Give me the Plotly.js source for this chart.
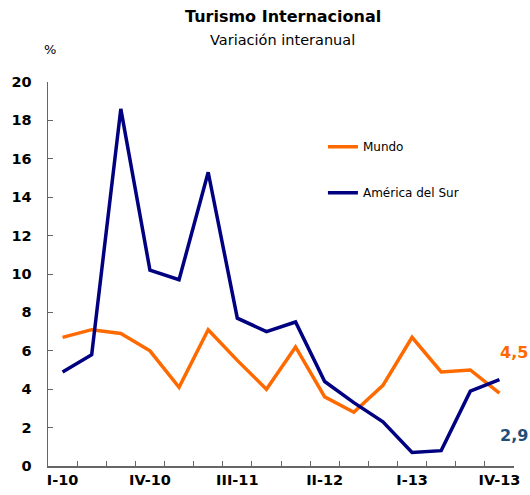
<!DOCTYPE html>
<html><head><meta charset="utf-8">
<script src="https://cdn.plot.ly/plotly-3.0.1.min.js"></script>
<style>html,body{margin:0;padding:0;background:#fff}#c{width:530px;height:495px}</style>
</head><body><div id="c"></div>
<script>
const quarters = ["I-10","II-10","III-10","IV-10","I-11","II-11","III-11","IV-11","I-12","II-12","III-12","IV-12","I-13","II-13","III-13","IV-13"];
const tickLabels = ["I-10","","","IV-10","","","III-11","","","II-12","","","I-13","","","IV-13"];
const mundo = [6.7,7.1,6.9,6.0,4.1,7.1,5.5,4.0,6.2,3.6,2.8,4.2,6.7,4.9,5.0,3.8];
const americaSur = [4.9,5.8,18.6,10.2,9.7,15.3,7.7,7.0,7.5,4.4,3.3,2.3,0.7,0.8,3.9,4.5];
const endLabels = {mundo: "4,5", americaSur: "2,9"};

const F = "DejaVu Sans, Verdana, sans-serif";
const traces = [
  {x: quarters, y: mundo, name: "Mundo", type: "scatter", mode: "lines",
   line: {color: "#FF6A00", width: 3.5}, legendgroup: "a"},
  {x: quarters, y: americaSur, name: "América del Sur", type: "scatter", mode: "lines",
   line: {color: "#000080", width: 3.5}, legendgroup: "b"}
];
const layout = {
  width: 530, height: 495,
  margin: {l: 48, r: 16, t: 82, b: 29},
  paper_bgcolor: "#fff", plot_bgcolor: "#fff",
  font: {family: F, color: "#000"},
  showlegend: true,
  legend: {x: 0.59, y: 0.869, xanchor: "left", yanchor: "top", bgcolor: "rgba(0,0,0,0)",
    font: {family: F, size: 12, color: "#000"}, tracegroupgap: 27, traceorder: "grouped",
    itemwidth: 30},
  xaxis: {type: "category", tickvals: quarters, ticktext: tickLabels, tickson: "boundaries",
    ticks: "inside", ticklen: 5, tickcolor: "#666", showline: true, linecolor: "#666", linewidth: 1.5,
    showgrid: false, zeroline: false, range: [-0.5, 15.5], tickangle: 0, automargin: false,
    tickfont: {family: F, size: 14.5, color: "#000", weight: "bold"}},
  yaxis: {range: [0, 20], dtick: 2, ticks: "inside", ticklen: 5, tickcolor: "#666",
    showline: true, linecolor: "#666", linewidth: 1.5, showgrid: false, zeroline: false,
    ticklabelstandoff: 12, automargin: false,
    tickfont: {family: F, size: 14.5, color: "#000", weight: "bold"}},
  annotations: [
    {xref: "paper", yref: "paper", x: 0.504, y: 1.14, xanchor: "center", yanchor: "bottom",
     text: "<b>Turismo Internacional</b>", showarrow: false, font: {family: F, size: 16, color: "#000"}},
    {xref: "paper", yref: "paper", x: 0.504, y: 1.083, xanchor: "center", yanchor: "bottom",
     text: "Variación interanual", showarrow: false, font: {family: F, size: 14.5, color: "#000"}},
    {xref: "paper", yref: "paper", x: 0.005, y: 1.06, xanchor: "center", yanchor: "bottom",
     text: "%", showarrow: false, font: {family: F, size: 13, color: "#000"}},
    {xref: "paper", yref: "y", x: 1.035, y: 5.9, xanchor: "right", yanchor: "middle",
     text: "<b>" + endLabels.mundo + "</b>", showarrow: false, font: {family: F, size: 16, color: "#FF6A00"}},
    {xref: "paper", yref: "y", x: 1.035, y: 1.6, xanchor: "right", yanchor: "middle",
     text: "<b>" + endLabels.americaSur + "</b>", showarrow: false, font: {family: F, size: 16, color: "#1F4E79"}}
  ]
};
Plotly.newPlot("c", traces, layout, {displayModeBar: false, staticPlot: true});
</script></body></html>
